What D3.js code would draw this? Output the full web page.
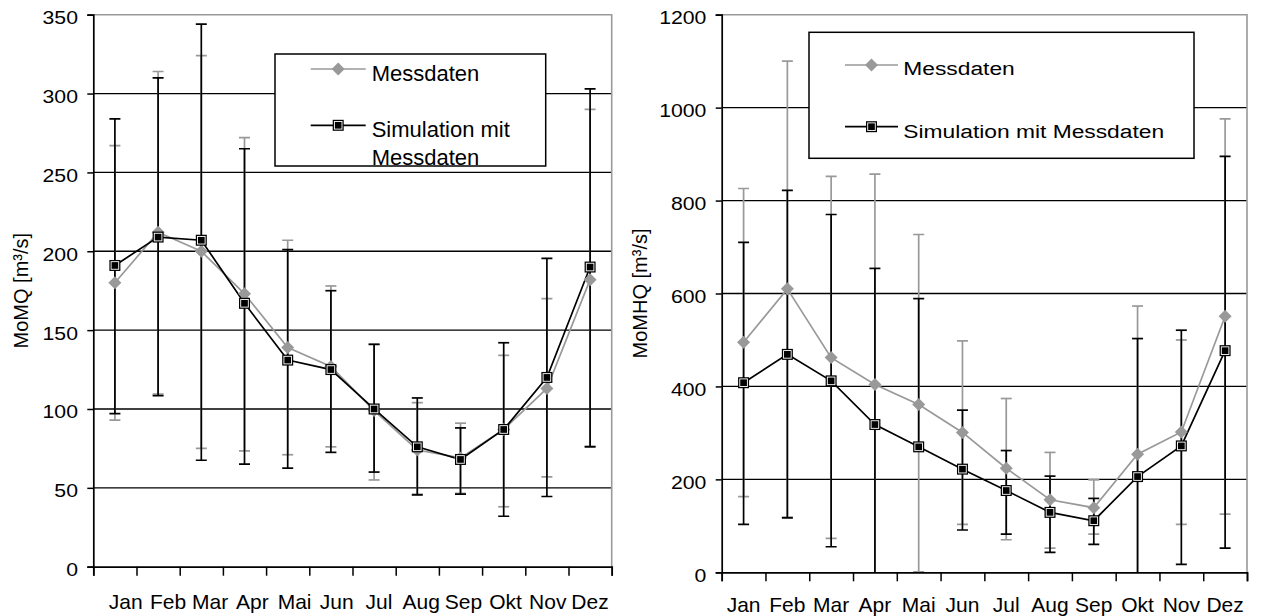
<!DOCTYPE html>
<html>
<head>
<meta charset="utf-8">
<style>
  body { margin: 0; background: #fff; }
  svg { display: block; font-family: "Liberation Sans", Arial, sans-serif; }
</style>
</head>
<body>
<svg width="1263" height="616"></svg>
<script src="https://cdn.jsdelivr.net/npm/d3@7/dist/d3.min.js"></script>
<script>
const months = ["Jan", "Feb", "Mar", "Apr", "Mai", "Jun", "Jul", "Aug", "Sep", "Okt", "Nov", "Dez"];

// MoMQ (left)
const mqMess   = [180, 212, 200, 173, 139, 127, 99, 74, 69, 87, 113, 182];
const mqMessHi = [267, 314, 324, 272, 207, 178, 141, 104, 91, 134, 170, 290];
const mqMessLo = [93, 109.5, 75, 73.5, 71, 76, 55, 46, 46.5, 38, 57, 76.5];
const mqSim    = [191, 209, 207, 167, 131, 125, 100, 76, 68, 87, 120, 190];
const mqSimHi  = [284, 310, 344, 265, 201, 175, 141, 107, 88, 142, 195.5, 303];
const mqSimLo  = [97, 108.5, 67.5, 65, 62.5, 72.5, 60, 45.5, 46, 32, 44.5, 76];
const mqTicks  = [0, 50, 100, 150, 200, 250, 300, 350];

// MoMHQ (right)
const mhqMess   = [495, 610, 462, 404, 361, 301, 224, 156, 139, 254, 302, 551];
const mhqMessHi = [826, 1100, 852, 857, 727, 498, 374, 258, 199, 573, 500, 976];
const mhqMessLo = [163, 119, 73, -40, 1, 103, 70, 52, 82, -30, 103, 125];
const mhqSim    = [408, 469, 412, 318, 270, 222, 176, 129, 111, 206, 272, 477];
const mhqSimHi  = [710, 822, 770, 654, 589, 349, 262, 207, 159, 503, 521, 895];
const mhqSimLo  = [103, 117, 55, -100, null, 91, 82, 43, 60, -100, 17, 52];
const mhqTicks  = [0, 200, 400, 600, 800, 1000, 1200];

const GRAY = "#999";
const svg = d3.select("svg");

function diamond(sel, x, y) {
  sel.append("path")
    .attr("d", "M0,-6.5L6.5,0L0,6.5L-6.5,0Z")
    .attr("transform", `translate(${x},${y})`)
    .attr("fill", GRAY);
}
function square(sel, x, y) {
  sel.append("rect").attr("x", x - 5.5).attr("y", y - 5.5).attr("width", 11).attr("height", 11)
    .attr("fill", "#000");
  sel.append("rect").attr("x", x - 3.8).attr("y", y - 3.8).attr("width", 7.6).attr("height", 7.6)
    .attr("fill", "#000").attr("stroke", "#fff").attr("stroke-width", 0.9);
}

function drawChart(o) {
  const g = svg.append("g");
  const x = d3.scaleBand().domain(months).range([o.left, o.right]);
  const xi = d3.scaleLinear().domain([0, 12]).range([o.left, o.right]);
  const y = d3.scaleLinear().domain([0, o.ticks[o.ticks.length - 1]]).range([o.bottom, o.top]);
  const cx = m => x(m) + x.bandwidth() / 2;

  // gridlines
  g.append("g").selectAll("line")
    .data(o.ticks.slice(1, -1)).join("line")
    .attr("x1", o.left).attr("x2", o.right)
    .attr("y1", d => y(d)).attr("y2", d => y(d))
    .attr("stroke", "#000").attr("stroke-width", 1.3);

  // gray frame top + right
  g.append("path")
    .attr("d", `M${o.left},${o.top}H${o.right}V${o.bottom}`)
    .attr("fill", "none").attr("stroke", GRAY).attr("stroke-width", 1.6);

  const clipId = "clip" + o.id;
  svg.append("clipPath").attr("id", clipId).append("rect")
    .attr("x", o.left - 10).attr("y", o.top - 10)
    .attr("width", o.right - o.left + 20).attr("height", o.bottom - o.top + 10);
  const plot = g.append("g").attr("clip-path", `url(#${clipId})`);

  const series = [
    { val: o.mess, hi: o.messHi, lo: o.messLo, color: GRAY, mark: diamond },
    { val: o.sim, hi: o.simHi, lo: o.simLo, color: "#000", mark: square }
  ];

  // error bars
  series.forEach(s => {
    const eb = plot.append("g").attr("stroke", s.color).attr("stroke-width", 1.7);
    months.forEach((m, i) => {
      const px = cx(m);
      const lo = s.lo[i] == null ? s.val[i] : s.lo[i];
      eb.append("line").attr("x1", px).attr("x2", px)
        .attr("y1", y(s.hi[i])).attr("y2", y(lo));
      eb.append("line").attr("x1", px - 5.5).attr("x2", px + 5.5)
        .attr("y1", y(s.hi[i])).attr("y2", y(s.hi[i]));
      if (s.lo[i] != null) {
        eb.append("line").attr("x1", px - 5.5).attr("x2", px + 5.5)
          .attr("y1", y(s.lo[i])).attr("y2", y(s.lo[i]));
      }
    });
  });

  // lines + markers
  series.forEach(s => {
    plot.append("path")
      .datum(s.val)
      .attr("d", d3.line().x((d, i) => cx(months[i])).y(d => y(d)))
      .attr("fill", "none").attr("stroke", s.color).attr("stroke-width", 1.7);
  });
  series.forEach(s => {
    s.val.forEach((v, i) => s.mark(plot, cx(months[i]), y(v)));
  });

  // axes
  const ya = g.append("g").attr("transform", `translate(${o.left},0)`)
    .call(d3.axisLeft(y).tickValues(o.ticks).tickSize(6).tickPadding(7).tickFormat(d3.format("d")));
  ya.select(".domain").attr("stroke-width", 1.7);
  ya.selectAll(".tick line").attr("stroke-width", 1.5);
  ya.selectAll("text").attr("font-size", 18).attr("font-family", null)
    .attr("fill", "#000").attr("dy", "0.5em").attr("transform", "scale(1.18,1)");

  const xa = g.append("g").attr("transform", `translate(0,${o.bottom})`)
    .call(d3.axisBottom(xi).tickValues(d3.range(13)).tickSize(9).tickFormat(""));
  xa.select(".domain").attr("stroke-width", 1.7);
  xa.selectAll(".tick line").attr("stroke-width", 1.5);

  const lx = o.labelRange
    ? d3.scalePoint().domain(months).range(o.labelRange)
    : cx;
  g.append("g").selectAll("text").data(months).join("text")
    .attr("x", d => lx(d)).attr("y", o.labelY)
    .attr("text-anchor", "middle").attr("font-size", 21)
    .text(d => d);

  g.append("text")
    .attr("transform", `translate(${o.titleX},${(o.top + o.bottom) / 2}) rotate(-90)`)
    .attr("text-anchor", "middle").attr("dy", "0.35em").attr("font-size", 20)
    .text(o.title);

  // legend
  const L = o.legend;
  const lg = g.append("g");
  lg.append("rect").attr("x", L.x).attr("y", L.y).attr("width", L.w).attr("height", L.h)
    .attr("fill", "#fff").attr("stroke", "#000").attr("stroke-width", 1.5);
  lg.append("line").attr("x1", L.lineX0).attr("x2", L.lineX1).attr("y1", L.y1).attr("y2", L.y1)
    .attr("stroke", GRAY).attr("stroke-width", 1.7);
  diamond(lg, (L.lineX0 + L.lineX1) / 2, L.y1);
  lg.append("line").attr("x1", L.lineX0).attr("x2", L.lineX1).attr("y1", L.y2).attr("y2", L.y2)
    .attr("stroke", "#000").attr("stroke-width", 1.7);
  square(lg, (L.lineX0 + L.lineX1) / 2, L.y2);
  L.texts.forEach(t => {
    lg.append("text")
      .attr("transform", `translate(${L.textX},${t.y}) scale(${L.sx},1)`)
      .attr("font-size", L.fs).text(t.s);
  });
}

drawChart({
  id: "a", left: 93.3, right: 611.7, top: 14.7, bottom: 566.7, ticks: mqTicks,
  mess: mqMess, messHi: mqMessHi, messLo: mqMessLo,
  sim: mqSim, simHi: mqSimHi, simLo: mqSimLo,
  labelRange: [125.8, 590], labelY: 608.5, title: "MoMQ [m³/s]", titleX: 21,
  legend: { x: 275, y: 54, w: 270.7, h: 112, lineX0: 310.7, lineX1: 365.7, y1: 69, y2: 125.3,
    textX: 371.7, fs: 22, sx: 1,
    texts: [{ s: "Messdaten", y: 81 }, { s: "Simulation mit", y: 136.7 }, { s: "Messdaten", y: 165 }] }
});

drawChart({
  id: "b", left: 721.7, right: 1247, top: 14.7, bottom: 572.3, ticks: mhqTicks,
  mess: mhqMess, messHi: mhqMessHi, messLo: mhqMessLo,
  sim: mhqSim, simHi: mhqSimHi, simLo: mhqSimLo,
  labelRange: null, labelY: 612.3, title: "MoMHQ [m³/s]", titleX: 640,
  legend: { x: 809, y: 32.3, w: 385, h: 126, lineX0: 845, lineX1: 898, y1: 65, y2: 126.7,
    textX: 903.3, fs: 19, sx: 1.2,
    texts: [{ s: "Messdaten", y: 75 }, { s: "Simulation mit Messdaten", y: 138.3 }] }
});
</script>
</body>
</html>
